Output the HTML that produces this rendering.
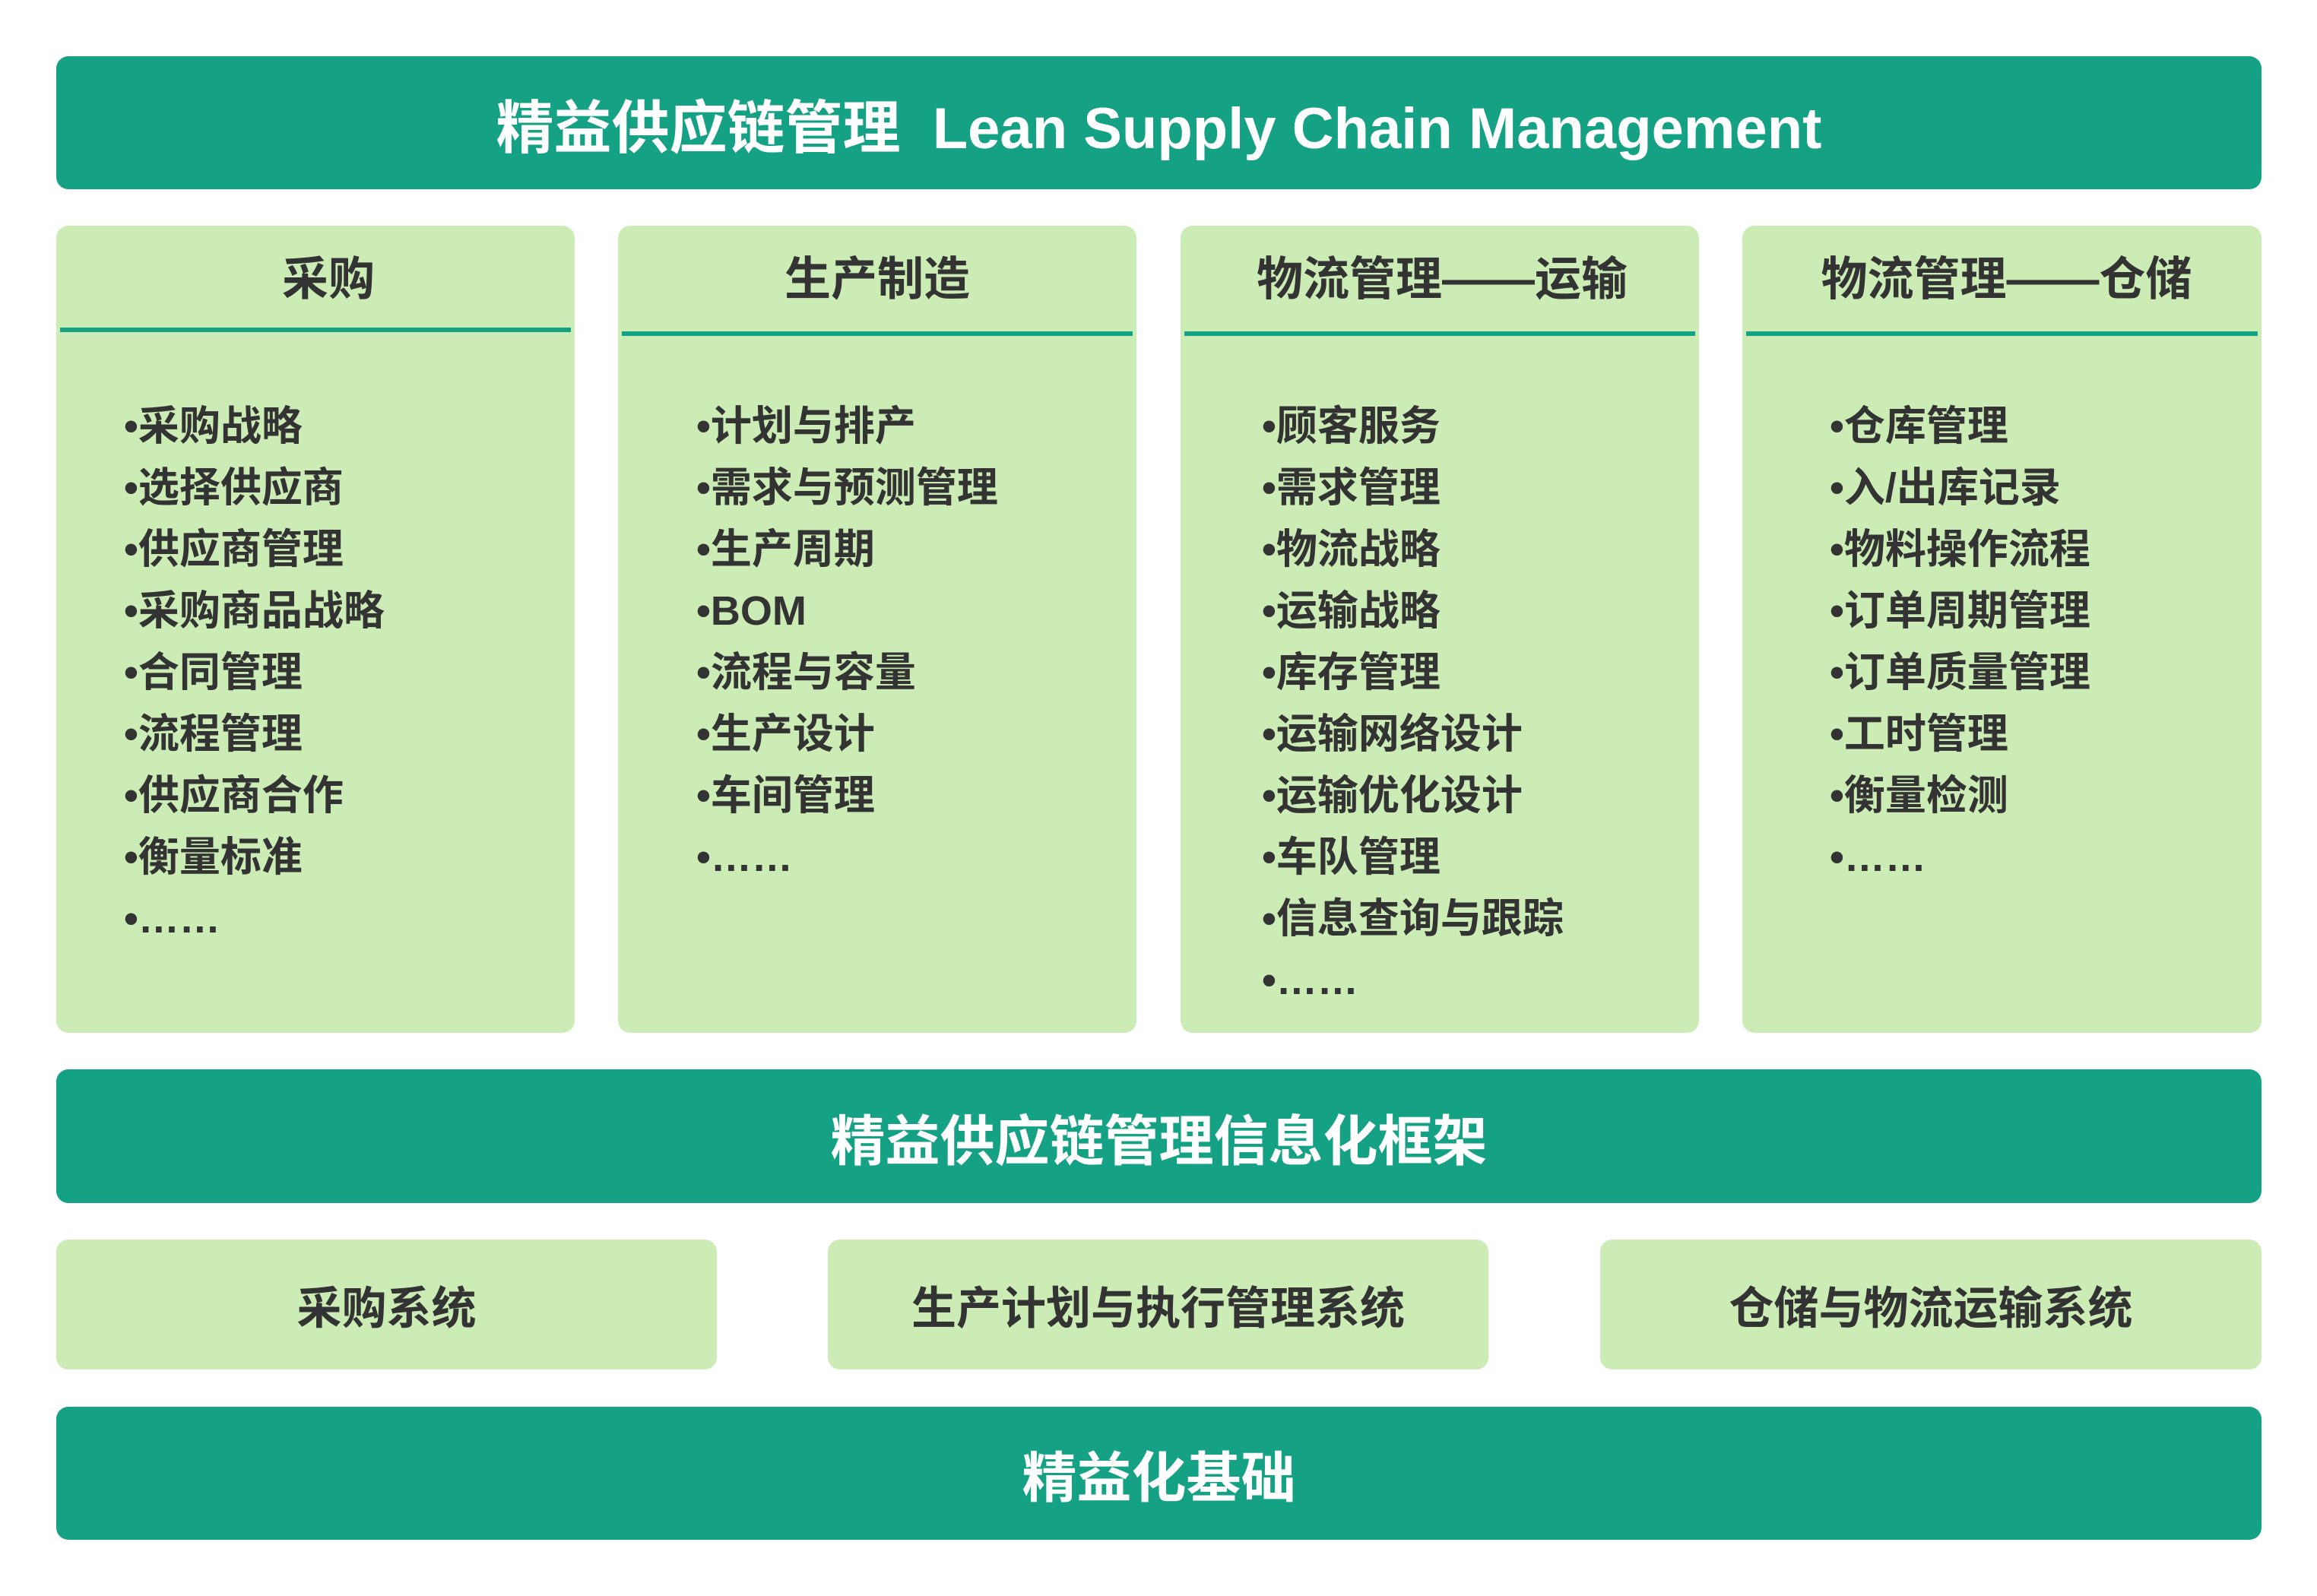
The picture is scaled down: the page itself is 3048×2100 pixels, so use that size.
<!DOCTYPE html>
<html><head><meta charset="utf-8"><style>
body{margin:0;width:3048px;height:2100px;background:#fff;position:relative;overflow:hidden;font-family:"Liberation Sans","Noto Sans CJK SC",sans-serif;font-weight:bold;}
.d{position:absolute;background:#14a184;border-radius:16px;color:#fff;display:flex;align-items:center;justify-content:center;}
.l{position:absolute;background:#cbedb5;border-radius:16px;color:#333;}
.col .h{position:absolute;left:0;right:0;top:0;height:140px;line-height:140px;text-align:center;font-size:61px;}
.col .ln{position:absolute;left:5px;right:5px;height:6px;background:#14a184;}
.col .it{position:absolute;top:224px;font-size:54px;line-height:81px;white-space:pre;}
.sys{display:flex;align-items:center;justify-content:center;font-size:59px;}
</style></head><body>
<div class="d" style="left:74px;top:74px;width:2901px;height:175px;font-size:76px;">精益供应链管理&nbsp;&nbsp;Lean Supply Chain Management</div>

<div class="l col" style="left:74px;top:297px;width:682px;height:1062px;">
<div class="h" style="left:34px">采购</div><div class="ln" style="top:134px"></div>
<div class="it" style="left:89px">•采购战略
•选择供应商
•供应商管理
•采购商品战略
•合同管理
•流程管理
•供应商合作
•衡量标准
•……</div></div>

<div class="l col" style="left:813px;top:297px;width:682px;height:1062px;">
<div class="h">生产制造</div><div class="ln" style="top:139px"></div>
<div class="it" style="left:103px">•计划与排产
•需求与预测管理
•生产周期
•BOM
•流程与容量
•生产设计
•车间管理
•……</div></div>

<div class="l col" style="left:1553px;top:297px;width:682px;height:1062px;">
<div class="h" style="left:6px">物流管理——运输</div><div class="ln" style="top:139px"></div>
<div class="it" style="left:107px">•顾客服务
•需求管理
•物流战略
•运输战略
•库存管理
•运输网络设计
•运输优化设计
•车队管理
•信息查询与跟踪
•……</div></div>

<div class="l col" style="left:2292px;top:297px;width:683px;height:1062px;">
<div class="h" style="left:12px">物流管理——仓储</div><div class="ln" style="top:139px"></div>
<div class="it" style="left:115px">•仓库管理
•入/出库记录
•物料操作流程
•订单周期管理
•订单质量管理
•工时管理
•衡量检测
•……</div></div>

<div class="d" style="left:74px;top:1407px;width:2901px;height:176px;font-size:72px;">精益供应链管理信息化框架</div>

<div class="l sys" style="left:74px;top:1631px;width:869px;height:171px;">采购系统</div>
<div class="l sys" style="left:1089px;top:1631px;width:869px;height:171px;">生产计划与执行管理系统</div>
<div class="l sys" style="left:2105px;top:1631px;width:870px;height:171px;">仓储与物流运输系统</div>

<div class="d" style="left:74px;top:1851px;width:2901px;height:175px;font-size:72px;">精益化基础</div>
</body></html>
